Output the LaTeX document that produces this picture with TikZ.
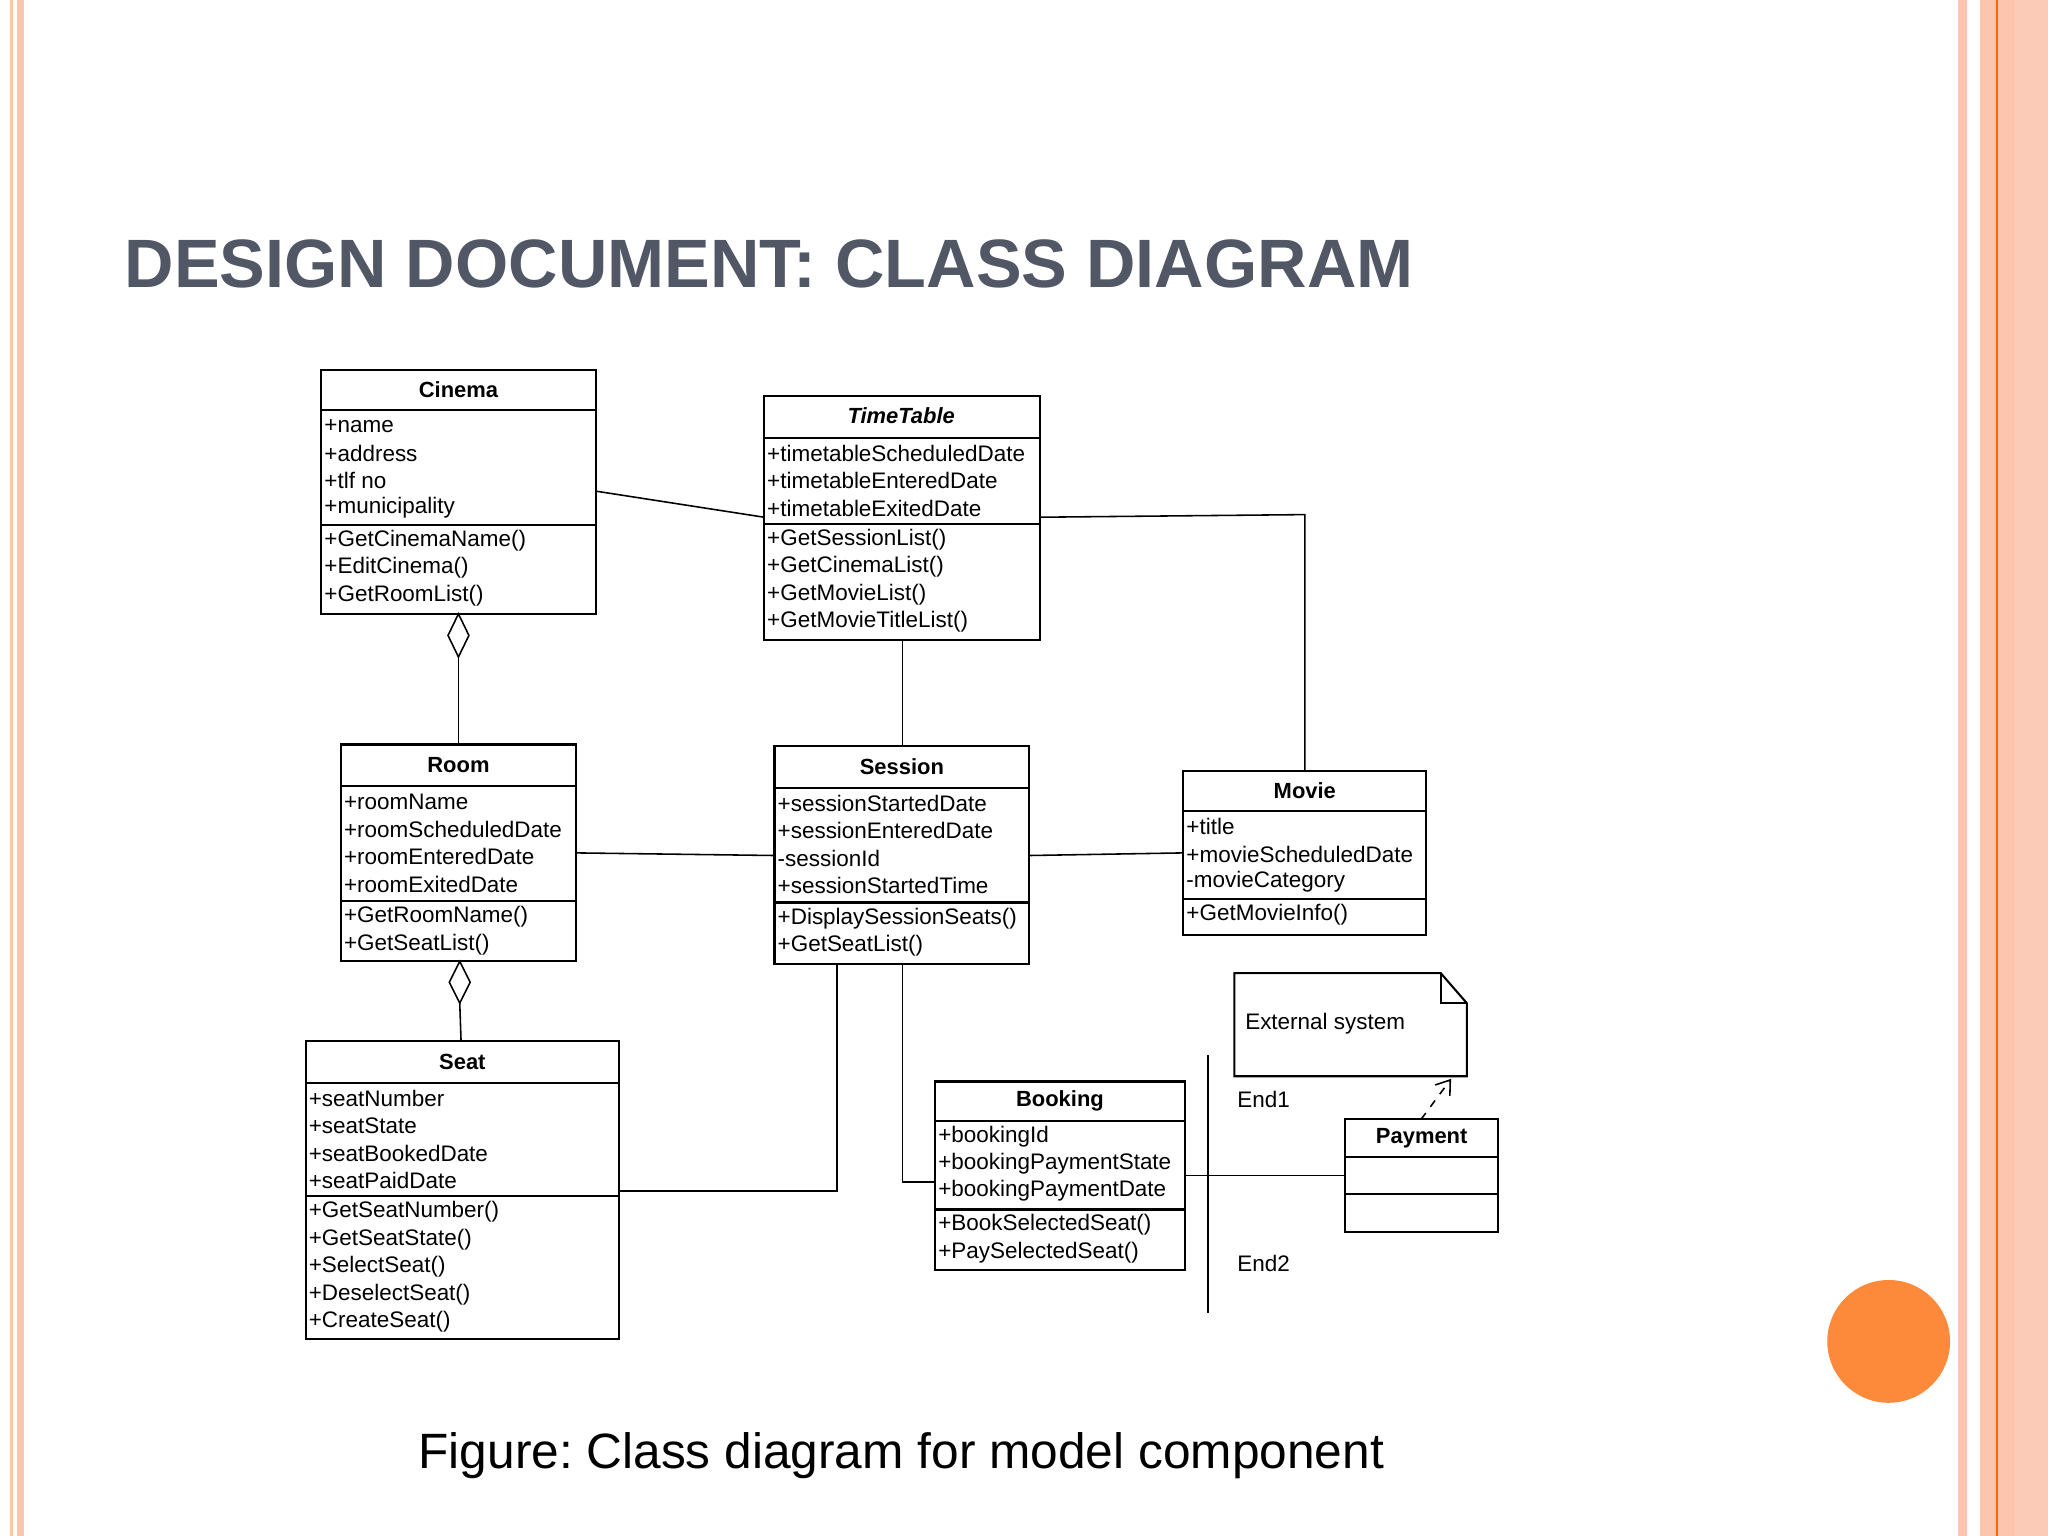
\documentclass[tikz,border=0pt]{standalone}
\usepackage{fontspec}
\setmainfont{Liberation Sans}
\usetikzlibrary{arrows.meta}
\definecolor{sal}{HTML}{FDC4AE}
\definecolor{sal2}{HTML}{FBCBB8}
\definecolor{ttl}{HTML}{525766}
\definecolor{dot}{HTML}{FD8A3A}
\frenchspacing
\begin{document}
\begin{tikzpicture}[x=0.5pt,y=-0.5pt,
  box/.style={draw,line width=0.8pt},
  t/.style={anchor=west,inner sep=0pt,font=\fontsize{8.6}{9}\selectfont},
  hd/.style={inner sep=0pt,font=\fontsize{8.4}{9}\selectfont\bfseries},
  ln/.style={line width=0.6pt}]
\useasboundingbox (0,0) rectangle (1568,1176);
\fill[white] (0,0) rectangle (1568,1176);
% borders
\fill[sal] (8,0) rectangle (10,1176);
\fill[sal] (13,0) rectangle (18,1176);
\fill[sal] (1499,0) rectangle (1506,1176);
\fill[sal] (1516,0) rectangle (1568,1176);
\fill[sal2] (1543,0) rectangle (1568,1176);
\fill[orange!80!red] (1528.5,0) rectangle (1529.5,1176);
\node[anchor=base west,inner sep=0pt,text=ttl,font=\fontsize{26.2}{28}\selectfont\bfseries] (title) at (95,220) {DESIGN DOCUMENT: CLASS DIAGRAM};
\fill[dot] (1446,1027) circle (47);
\node[anchor=base,inner sep=0pt,font=\fontsize{19}{22}\selectfont] (cap) at (690,1124) {Figure: Class diagram for model component};
\newcommand{\cls}[8]{%
  \draw[box] (#2,#4) rectangle (#3,#7);
  \draw[box] (#2,#5) -- (#3,#5);
  \draw[box] (#2,#6) -- (#3,#6);
  \node[hd] (#1) at ({(#2+#3)/2},{(#4+#5)/2}) {#8};
}
% Cinema
\cls{cinema}{246}{456}{283}{314}{402}{470}{Cinema}
\foreach \s [count=\i] in {+name,+address,+tlf no,+municipality}
  \node[t] at (248,{314+\i*21-9}) {\s};
\foreach \s [count=\i] in {+GetCinemaName(),+EditCinema(),+GetRoomList()}
  \node[t] at (248,{402+\i*21-9}) {\s};
% TimeTable
\draw[box] (585,303) rectangle (796,490);
\draw[box] (585,335) -- (796,335); \draw[box] (585,401) -- (796,401);
\node[inner sep=0pt,font=\fontsize{8.4}{9}\selectfont\bfseries\itshape] (tt) at (690,318) {TimeTable};
\foreach \s [count=\i] in {+timetableScheduledDate,+timetableEnteredDate,+timetableExitedDate}
  \node[t] at (587,{335+\i*21-9}) {\s};
\foreach \s [count=\i] in {+GetSessionList(),+GetCinemaList(),+GetMovieList(),+GetMovieTitleList()}
  \node[t] at (587,{401+\i*21-9}) {\s};
% Room
\cls{room}{261}{441}{570}{602}{690}{736}{Room}
\foreach \s [count=\i] in {+roomName,+roomScheduledDate,+roomEnteredDate,+roomExitedDate}
  \node[t] at (263,{602+\i*21-9}) {\s};
\foreach \s [count=\i] in {+GetRoomName(),+GetSeatList()}
  \node[t] at (263,{690+\i*21-9}) {\s};
% Session
\cls{session}{593}{788}{571}{603}{691}{738}{Session}
\foreach \s [count=\i] in {+sessionStartedDate,+sessionEnteredDate,-sessionId,+sessionStartedTime}
  \node[t] at (595,{603+\i*21-9}) {\s};
\foreach \s [count=\i] in {+DisplaySessionSeats(),+GetSeatList()}
  \node[t] at (595,{691+\i*21-9}) {\s};
% Movie
\cls{movie}{906}{1092}{590}{621}{688}{716}{Movie}
\foreach \s [count=\i] in {+title,+movieScheduledDate,-movieCategory}
  \node[t] at (908,{621+\i*21-9}) {\s};
\node[t] at (908,700) {+GetMovieInfo()};
% Seat
\cls{seat}{234}{474}{797}{829}{916}{1025}{Seat}
\foreach \s [count=\i] in {+seatNumber,+seatState,+seatBookedDate,+seatPaidDate}
  \node[t] at (236,{829+\i*21-9}) {\s};
\foreach \s [count=\i] in {+GetSeatNumber(),+GetSeatState(),+SelectSeat(),+DeselectSeat(),+CreateSeat()}
  \node[t] at (236,{916+\i*21-9}) {\s};
% Booking
\cls{booking}{716}{907}{828}{858}{926}{972}{Booking}
\foreach \s [count=\i] in {+bookingId,+bookingPaymentState,+bookingPaymentDate}
  \node[t] at (718,{858+\i*21-9}) {\s};
\foreach \s [count=\i] in {+BookSelectedSeat(),+PaySelectedSeat()}
  \node[t] at (718,{926+\i*21-9}) {\s};
% Payment
\cls{payment}{1030}{1147}{857}{886}{914}{943}{Payment}
% note
\draw[box] (945,745) -- (1103,745) -- (1123,768) -- (1123,824) -- (945,824) -- cycle;
\draw[box] (1103,745) -- (1103,768) -- (1123,768);
\node[t] (note) at (953,784) {External system};
% connectors
\coordinate (c1) at (456,376); \coordinate (c2) at (585,396);
\draw[ln] (c1) -- (c2);
\coordinate (t1) at (796,396); \coordinate (t2) at (999,394); \coordinate (m1) at (999,590);
\draw[ln] (t1) -- (t2) -- (m1);
\coordinate (t3) at (691,490); \coordinate (s1) at (691,571);
\draw[ln] (t3) -- (s1);
\coordinate (cb) at (351,470); \coordinate (rt) at (351,570);
\draw[ln] (rt) -- (351,503);
\draw[ln,fill=white] (cb) -- (359,486.5) -- (351,503) -- (343,486.5) -- cycle;
\coordinate (rb) at (352,736); \coordinate (st) at (353,797);
\draw[ln] (352,768) -- (st);
\draw[ln,fill=white] (rb) -- (360,752) -- (352,768) -- (344,752) -- cycle;
\coordinate (r1) at (441,653); \coordinate (s2) at (593,655);
\draw[ln] (r1) -- (s2);
\coordinate (s3) at (788,655); \coordinate (m2) at (906,653);
\draw[ln] (s3) -- (m2);
\coordinate (s4) at (641,738); \coordinate (se1) at (474,912);
\draw[ln] (s4) -- (641,912) -- (se1);
\coordinate (s5) at (691,738); \coordinate (b1) at (716,905);
\draw[ln] (s5) -- (691,905) -- (b1);
\coordinate (b2) at (907,900); \coordinate (p1) at (1030,900);
\draw[ln] (b2) -- (p1);
\coordinate (v1) at (925,808); \coordinate (v2) at (925,1005);
\draw[line width=0.9pt] (v1) -- (v2);
\node[t] (e1) at (947,842) {End1};
\node[t] (e2) at (947,967) {End2};
\coordinate (pt) at (1088,857); \coordinate (nb) at (1111,826);
\draw[ln,dashed,-{Straight Barb[length=5pt,width=7pt]}] (pt) -- (nb);
\end{tikzpicture}
\end{document}
